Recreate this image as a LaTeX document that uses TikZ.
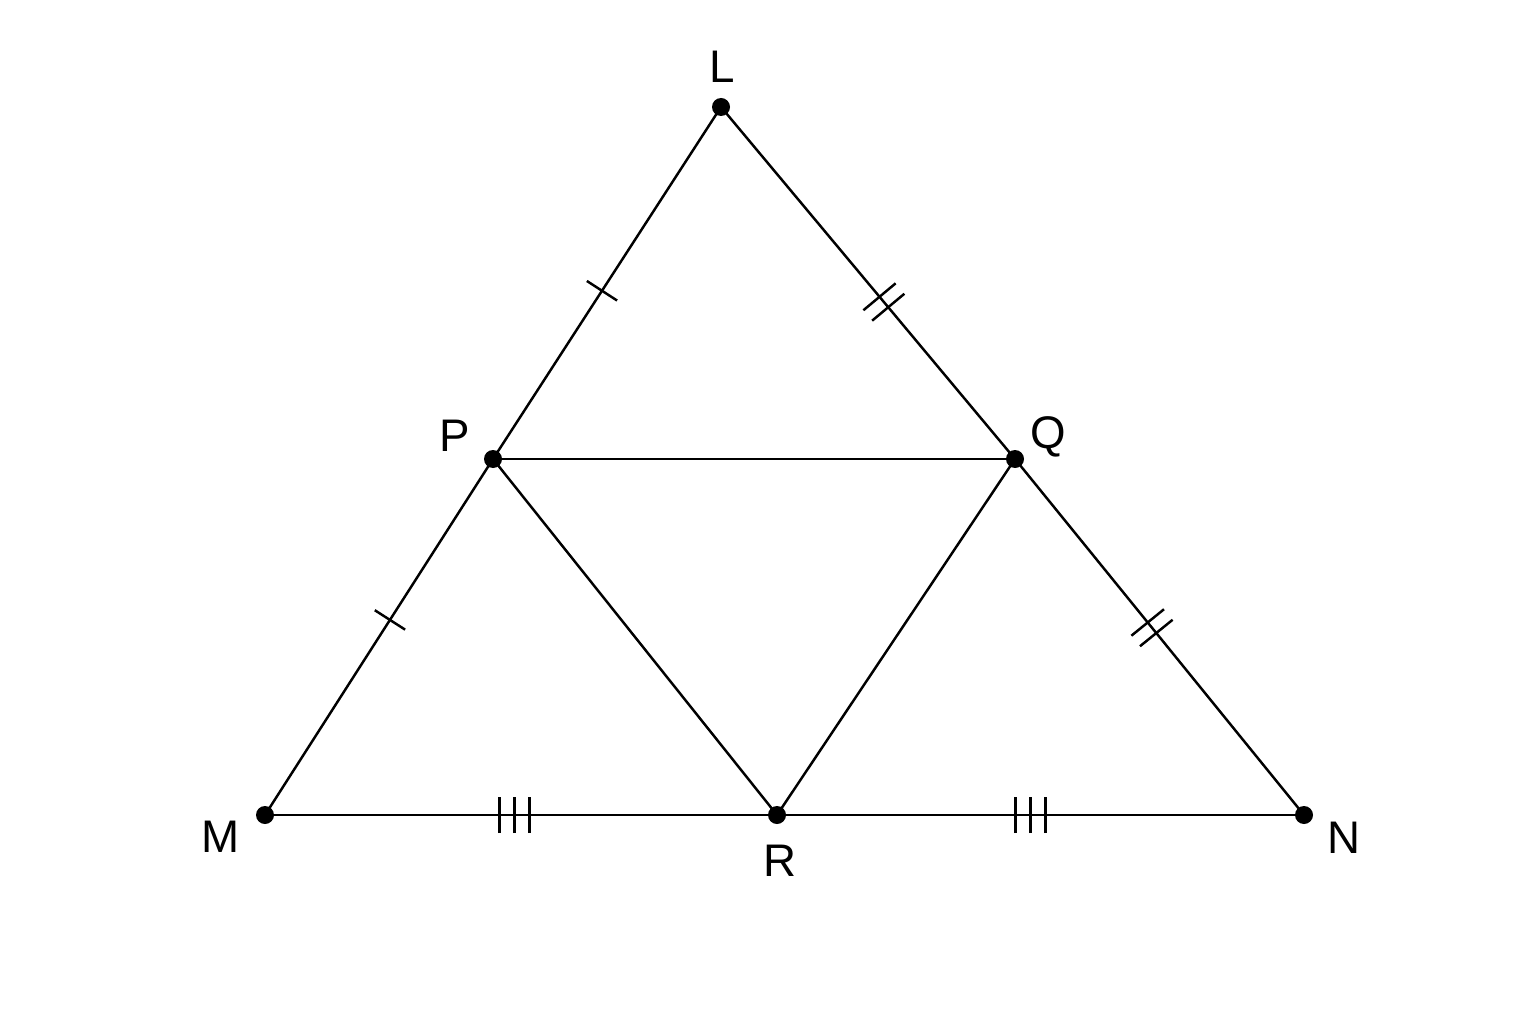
\documentclass[tikz,border=0pt]{standalone}
\usepackage{fontspec}
\setmainfont{Liberation Sans}
\usepackage{tikz}
\usetikzlibrary{decorations.markings}

\tikzset{
  dot/.style={circle, fill=black, inner sep=0pt, minimum size=0.18cm},
  lbl/.style={font=\fontsize{13}{15}\selectfont, inner sep=0pt},
  side/.style={line width=0.7pt},
  onetick/.style={postaction={decorate, decoration={markings,
      mark=at position #1 with {\draw[line width=0.7pt] (0,-0.18) -- (0,0.18);}}}},
  twotick/.style={postaction={decorate, decoration={markings,
      mark=at position #1 with {\draw[line width=0.7pt] (-0.068,-0.21) -- (-0.068,0.21)
                                                      (0.068,-0.21) -- (0.068,0.21);}}}},
  threetick/.style={postaction={decorate, decoration={markings,
      mark=at position #1 with {\draw[line width=0.7pt] (-0.15,-0.18) -- (-0.15,0.18)
                                                      (0,-0.18) -- (0,0.18)
                                                      (0.15,-0.18) -- (0.15,0.18);}}}}
}

\begin{document}
\begin{tikzpicture}
            \useasboundingbox (0,0) rectangle (15.36,10.24);
            % vertices and midpoints
            \node[dot] (L) at ( 7.21, 9.17) {};
            \node[dot] (M) at ( 2.65, 2.09) {};
            \node[dot] (N) at (13.04, 2.09) {};
            \node[dot] (P) at ( 4.93, 5.65) {};
            \node[dot] (Q) at (10.15, 5.65) {};
            \node[dot] (R) at ( 7.77, 2.09) {};
            % labels
            \node[lbl] (Llab) at ([shift={( 0.01, 0.40)}]L) {L};
            \node[lbl] (Mlab) at ([shift={(-0.44,-0.22)}]M) {M};
            \node[lbl] (Nlab) at ([shift={( 0.40,-0.23)}]N) {N};
            \node[lbl] (Plab) at ([shift={(-0.38, 0.23)}]P) {P};
            \node[lbl] (Qlab) at ([shift={( 0.33, 0.22)}]Q) {Q};
            \node[lbl] (Rlab) at ([shift={( 0.03,-0.46)}]R) {R};
            % sides of LMN
            \draw[side, onetick=0.522]   (L.center) -- (P.center);
            \draw[side, onetick=0.452]   (P.center) -- (M.center);
            \draw[side, twotick=0.554]   (L.center) -- (Q.center);
            \draw[side, twotick=0.474]   (Q.center) -- (N.center);
            \draw[side, threetick=0.487] (M.center) -- (R.center);
            \draw[side, threetick=0.481] (R.center) -- (N.center);
            % midpoint triangle
            \draw[side] (P.center) -- (Q.center);
            \draw[side] (P.center) -- (R.center);
            \draw[side] (Q.center) -- (R.center);
\end{tikzpicture}
\end{document}
